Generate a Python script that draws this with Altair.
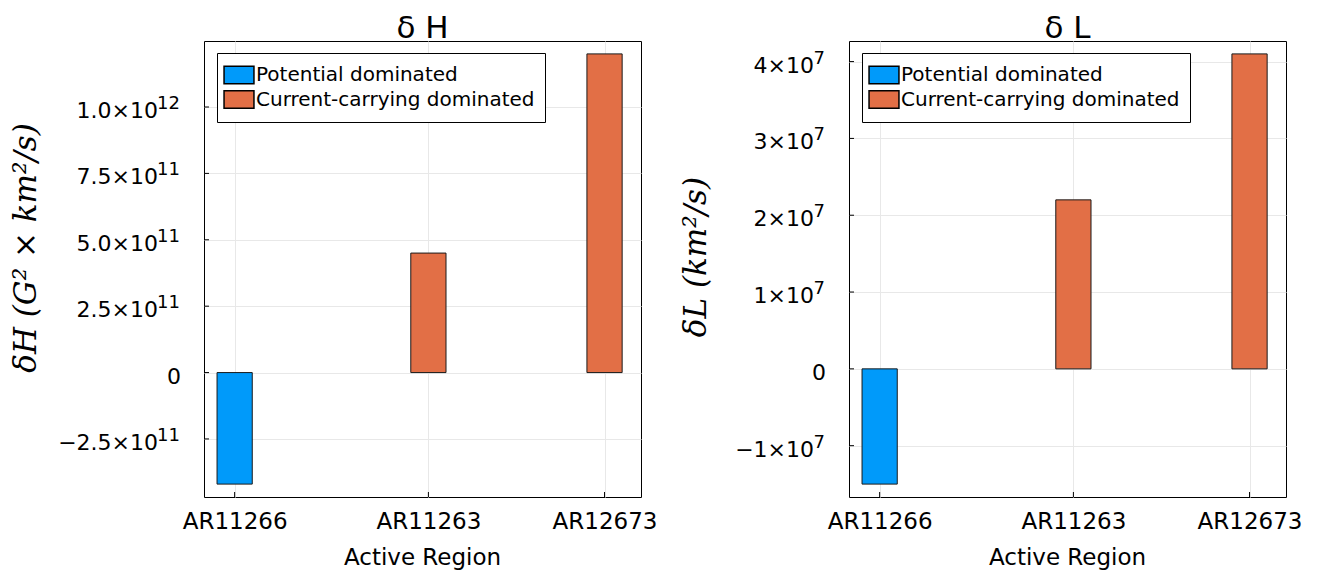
import altair as alt
import pandas as pd

# ---------------- data ----------------
regions = ["AR11266", "AR11263", "AR12673"]
region_pos = [1.0, 2.1, 3.1]
dominance = ["Potential dominated", "Current-carrying dominated", "Current-carrying dominated"]
delta_H = [-4.2e11, 4.5e11, 1.2e12]
delta_L = [-1.5e7, 2.2e7, 4.1e7]

H_ticks = [-2.5e11, 0.0, 2.5e11, 5.0e11, 7.5e11, 1.0e12]
H_tick_mantissa = ["−2.5×10", "0", "2.5×10", "5.0×10", "7.5×10", "1.0×10"]
H_tick_exponent = ["11", "", "11", "11", "11", "12"]
L_ticks = [-1.0e7, 0.0, 1.0e7, 2.0e7, 3.0e7, 4.0e7]
L_tick_mantissa = ["−1×10", "0", "1×10", "2×10", "3×10", "4×10"]
L_tick_exponent = ["7", "", "7", "7", "7", "7"]

series_names = ["Potential dominated", "Current-carrying dominated"]
series_colors = ["#009AFA", "#E26F46"]

H_domain = [-4.686e11, 1.2486e12]
L_domain = [-1.668e7, 4.268e7]
x_domain = [0.826, 3.307]

x_title = "Active Region"

W, H = 437, 456
BAR_HALF = 0.1
FONT = "DejaVu Sans"


def label_expr(values, labels):
    expr = "''"
    for v, l in reversed(list(zip(values, labels))):
        expr = f"datum.value == {float(v)!r} ? '{l}' : ({expr})"
    return expr


def panel(values, ticks, mantissa, exponent, ydomain, title, ytitle, ytitle_x, ytitle_y):
    df = pd.DataFrame({"region": regions, "pos": region_pos, "type": dominance, "value": values})
    xscale = alt.Scale(domain=x_domain, nice=False, zero=False)
    yscale = alt.Scale(domain=ydomain, nice=False, zero=False)

    xaxis = alt.Axis(
        values=region_pos, labelExpr=label_expr(region_pos, regions),
        title=None, grid=True, labelFontSize=23, labelPadding=13, labelAngle=0,
        labelFlush=False, labelOverlap=False, labelBound=False,
    )
    yaxis = alt.Axis(values=ticks, labels=False, title=None, grid=True)

    bars = (
        alt.Chart(df)
        .transform_calculate(x0=f"datum.pos - {BAR_HALF}", x1=f"datum.pos + {BAR_HALF}")
        .mark_bar(stroke="#1a1a1a", strokeWidth=1)
        .encode(
            x=alt.X("x0:Q", scale=xscale, axis=xaxis),
            x2="x1:Q",
            y=alt.Y("value:Q", scale=yscale, axis=yaxis),
            y2=alt.datum(0),
            color=alt.Color(
                "type:N",
                scale=alt.Scale(domain=series_names, range=series_colors),
                legend=alt.Legend(
                    title=None, orient="none", legendX=13, legendY=12,
                    direction="vertical",
                    symbolType="M-1.36,-0.8H1.36V0.8H-1.36Z", symbolSize=484,
                    symbolStrokeColor="black", symbolStrokeWidth=1.5, symbolOpacity=1,
                    labelFontSize=20, labelFont=FONT, labelColor="black",
                    labelLimit=500, strokeColor="black", fillColor="white",
                    padding=10, rowPadding=0.5, labelOffset=5,
                ),
            ),
        )
    )

    tick_df = pd.DataFrame({"v": ticks, "main": mantissa, "exp": exponent})
    exp_pad = 24 + 11 * max(len(e) for e in exponent)

    def ych(field):
        return alt.Y(field, scale=yscale, title=None)

    yt = (
        alt.Chart(pd.DataFrame({"v": ticks}))
        .mark_rule(color="black", strokeWidth=1)
        .encode(y=ych("v:Q"), x=alt.value(0), x2=alt.value(5))
    )
    xt = (
        alt.Chart(pd.DataFrame({"p": region_pos}))
        .mark_rule(color="black", strokeWidth=1)
        .encode(x=alt.X("p:Q", scale=xscale, title=None), y=alt.value(H), y2=alt.value(H - 5))
    )
    lab_main = (
        alt.Chart(tick_df)
        .transform_filter("datum.exp != ''")
        .mark_text(align="right", baseline="alphabetic", fontSize=22, font=FONT, color="black", dy=11)
        .encode(y=ych("v:Q"), x=alt.value(-exp_pad), text="main:N")
    )
    lab_zero = (
        alt.Chart(tick_df)
        .transform_filter("datum.exp == ''")
        .mark_text(align="right", baseline="alphabetic", fontSize=22, font=FONT, color="black", dy=11)
        .encode(y=ych("v:Q"), x=alt.value(-23), text="main:N")
    )
    lab_exp = (
        alt.Chart(tick_df)
        .transform_filter("datum.exp != ''")
        .mark_text(align="right", baseline="alphabetic", fontSize=18, font=FONT, color="black", dy=2)
        .encode(y=ych("v:Q"), x=alt.value(-24), text="exp:N")
    )
    ytitle_mark = (
        alt.Chart(pd.DataFrame({"t": [ytitle]}))
        .mark_text(angle=270, align="center", baseline="alphabetic", fontSize=31,
                   font="DejaVu Serif", fontStyle="italic", color="black")
        .encode(x=alt.value(ytitle_x), y=alt.value(ytitle_y), text="t:N")
    )
    xtitle_mark = (
        alt.Chart(pd.DataFrame({"t": [x_title]}))
        .mark_text(align="center", baseline="alphabetic", fontSize=23, font=FONT, color="black")
        .encode(x=alt.value(W / 2), y=alt.value(H + 68), text="t:N")
    )
    title_mark = (
        alt.Chart(pd.DataFrame({"t": [title]}))
        .mark_text(align="center", baseline="alphabetic", fontSize=31, font=FONT, color="black")
        .encode(x=alt.value(W / 2), y=alt.value(-3), text="t:N")
    )
    return alt.layer(bars, yt, xt, lab_main, lab_zero, lab_exp, ytitle_mark, xtitle_mark, title_mark).properties(
        width=W, height=H
    )


left = panel(delta_H, H_ticks, H_tick_mantissa, H_tick_exponent, H_domain,
             "δ H", "δH (G² × km²/s)", -168, 207)
right = panel(delta_L, L_ticks, L_tick_mantissa, L_tick_exponent, L_domain,
              "δ L", "δL (km²/s)", -143, 216)

chart = (
    alt.hconcat(left, right, spacing=22)
    .resolve_scale(color="independent")
    .properties(padding={"left": 2, "top": 4, "right": 5, "bottom": 0})
    .configure_view(stroke="black", strokeWidth=1)
    .configure_axis(
        gridColor="#e8e8e8", gridWidth=1, domain=False, ticks=False, tickSize=0,
        labelColor="black", titleColor="black", labelFont=FONT,
        titleFont=FONT, titleFontWeight="normal",
    )
)

chart.save("out.html", embed_options={"renderer": "svg", "actions": False})
